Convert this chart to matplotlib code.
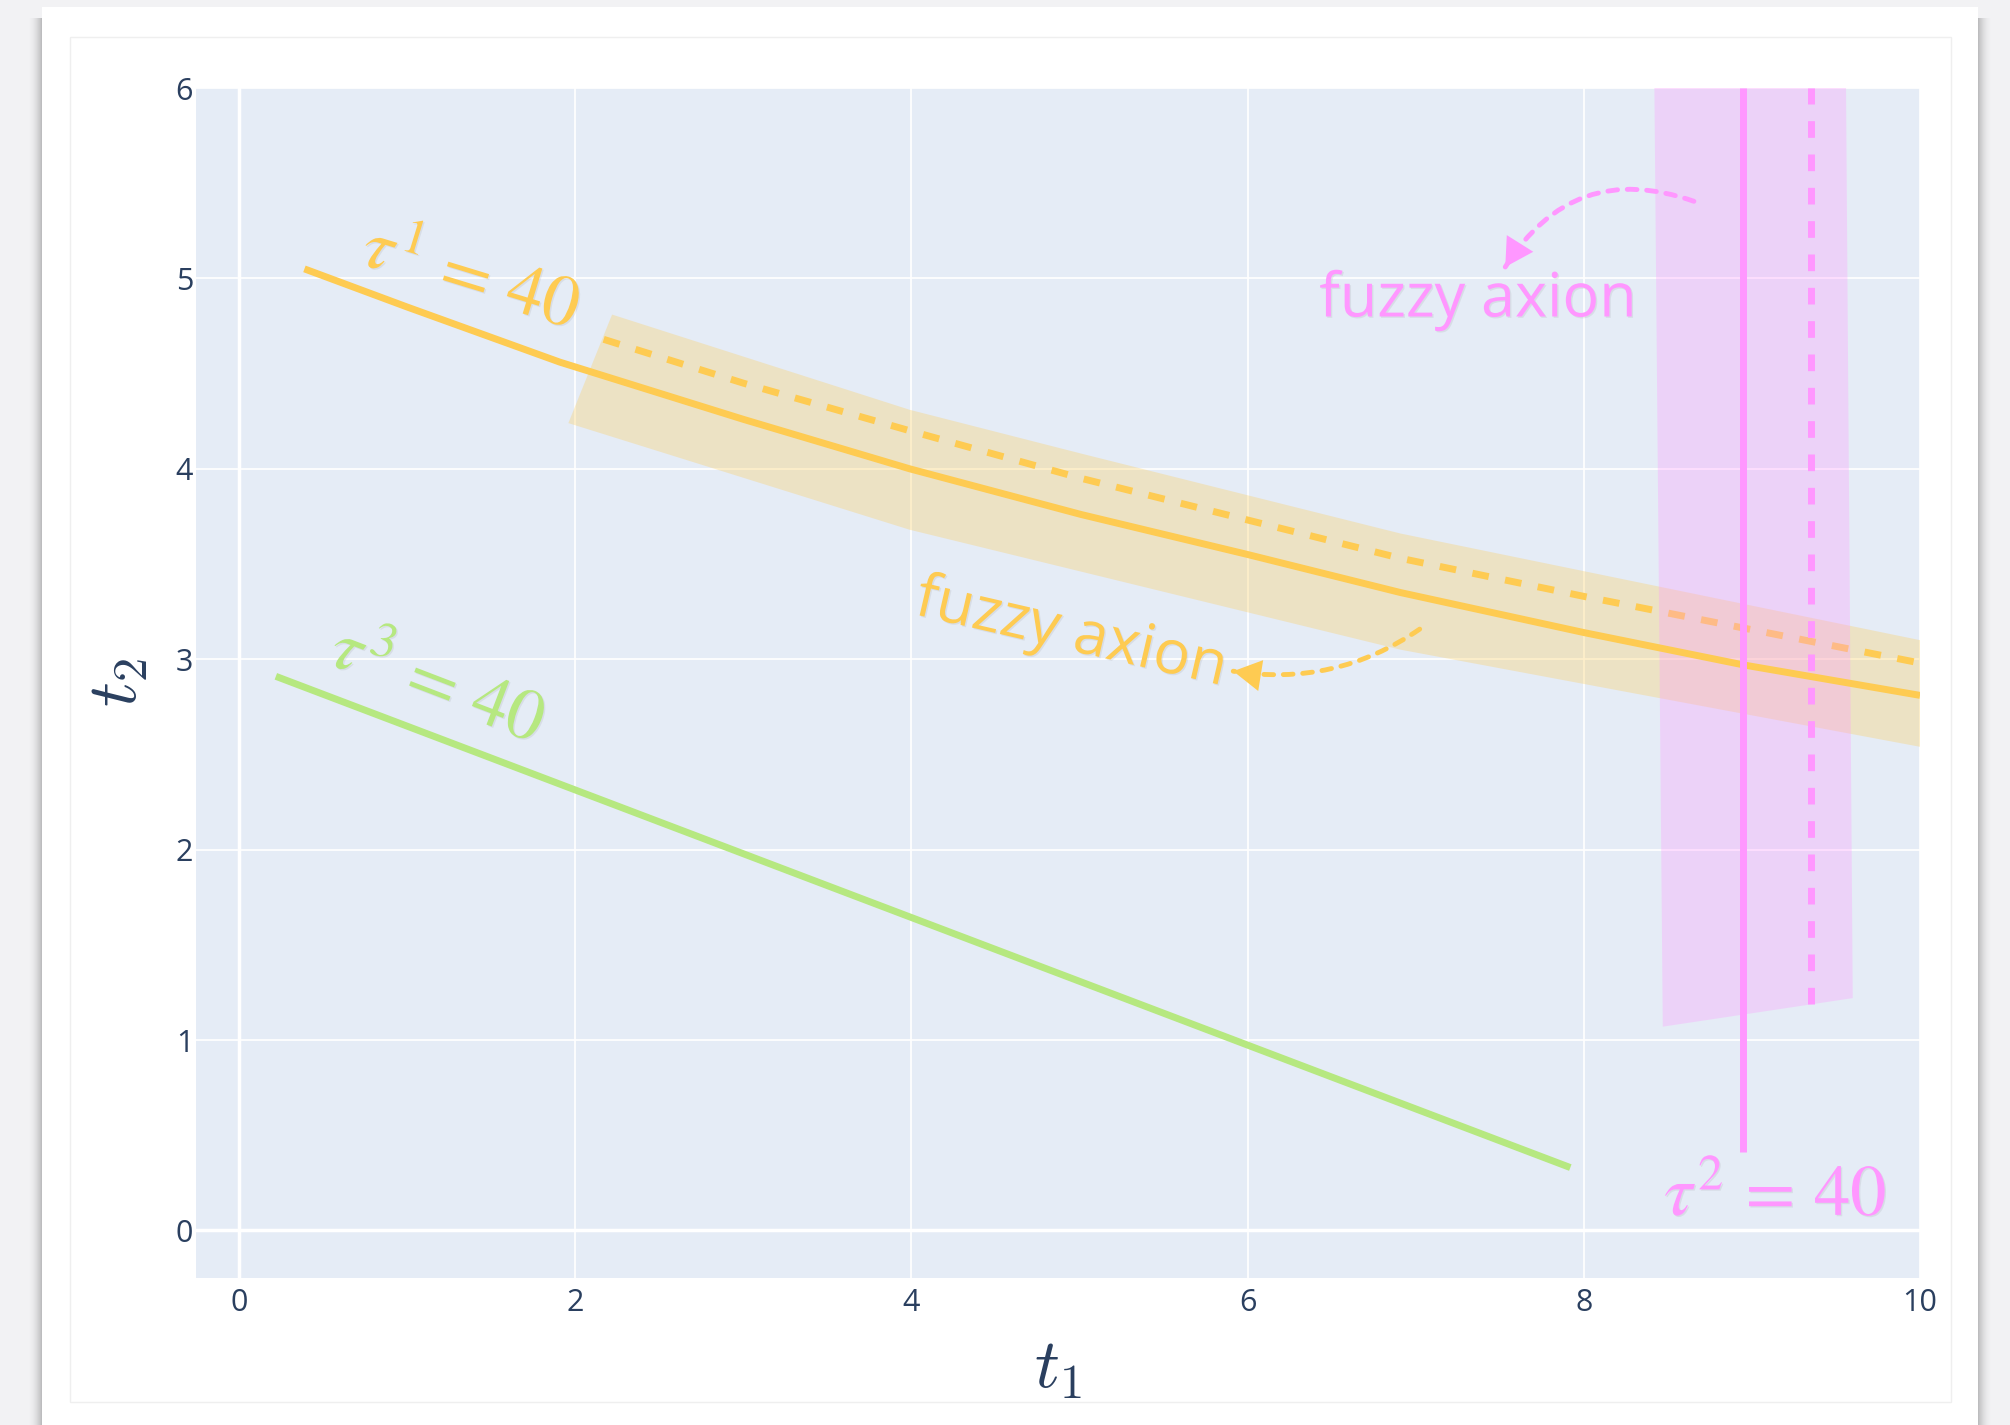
import matplotlib
matplotlib.use("Agg")
import matplotlib.pyplot as plt
import matplotlib.patheffects as pe
from matplotlib.patches import Rectangle, Polygon, FancyArrowPatch

# tau^1 = 40 : crisp curve, fuzzy (dashed) curve and fuzzy band
tau1_x = [0.39, 1.0, 1.91, 3.0, 3.99, 5.01, 6.0, 6.91, 8.0, 8.95, 10.0]
tau1_y = [5.05, 4.85, 4.56, 4.26, 4.00, 3.76, 3.55, 3.35, 3.14, 2.97, 2.81]
fuzzy1_x = [2.17, 3.0, 3.99, 5.01, 6.91, 8.0, 10.0]
fuzzy1_y = [4.68, 4.45, 4.20, 3.95, 3.53, 3.33, 2.98]
band1_top_x = [2.22, 3.99, 5.01, 6.91, 10.0]
band1_top_y = [4.81, 4.31, 4.08, 3.66, 3.10]
band1_bot_x = [1.96, 3.99, 5.01, 6.91, 10.0]
band1_bot_y = [4.24, 3.68, 3.46, 3.05, 2.54]

# tau^2 = 40 : vertical
tau2_x = [8.95, 8.95]
tau2_y = [0.41, 6.0]
fuzzy2_x = [9.35, 9.35]
fuzzy2_y = [1.19, 6.0]
band2_x = [8.42, 8.47, 9.60, 9.56]
band2_y = [6.0, 1.07, 1.22, 6.0]

# tau^3 = 40
tau3_x = [0.22, 7.92]
tau3_y = [2.91, 0.33]

xticks = [0, 2, 4, 6, 8, 10]
yticks = [0, 1, 2, 3, 4, 5, 6]

ORANGE = '#FECB52'
PINK = '#FF97FF'
GREEN = '#B6E880'
FONTCOL = '#2a3f5f'

plt.rcParams['font.family'] = ['Open Sans', 'DejaVu Sans']

W, H = 2010, 1425
fig = plt.figure(figsize=(W / 100, H / 100), dpi=100)
fig.patch.set_facecolor('#f2f2f4')


def px_rect(x, y, w, h, **kw):
    # rectangle given in picture pixels (y from top), kept behind the axes
    r = Rectangle((x / W, 1 - (y + h) / H), w / W, h / H,
                  transform=fig.transFigure, zorder=-10, **kw)
    fig.add_artist(r)
    return r


# card with soft shadow on the sides
for i in range(14):
    a = 0.22 * (1 - i / 14) ** 2
    px_rect(42 - i - 1, 18, 1, H, facecolor='black', alpha=a, lw=0)
    px_rect(1978 + i, 18, 1, H, facecolor='black', alpha=a, lw=0)
px_rect(42, 7, 1936, H, facecolor='white', lw=0)
px_rect(70, 37, 1881, 1365, facecolor='none', edgecolor='#efefef', lw=1)

ax = fig.add_axes([196 / W, 1 - 1278 / H, (1920 - 196) / W, (1278 - 88) / H])
ax.set_facecolor('#E5ECF6')
for s in ax.spines.values():
    s.set_visible(False)
ax.set_xlim(-0.255, 10)
ax.set_ylim(-0.25, 6)
ax.set_xticks(xticks)
ax.set_yticks(yticks)
ax.grid(color='white', lw=1.25)
ax.set_axisbelow(True)
ax.axhline(0, color='white', lw=2.5, zorder=0.8)
ax.axvline(0, color='white', lw=2.5, zorder=0.8)
ax.tick_params(length=0, labelsize=22, labelcolor=FONTCOL)
ax.tick_params(axis='y', pad=2)
ax.tick_params(axis='x', pad=7)

ax.set_xlabel(r'$t_1$', fontsize=50, color=FONTCOL, math_fontfamily='cm')
ax.set_ylabel(r'$t_2$', fontsize=50, color=FONTCOL, math_fontfamily='cm')
ax.xaxis.set_label_coords(0.5, -0.047)
ax.yaxis.set_label_coords(-0.025, 0.5)

# fuzzy bands
ax.add_patch(Polygon(list(zip(band1_top_x + band1_bot_x[::-1],
                              band1_top_y + band1_bot_y[::-1])),
                     closed=True, facecolor=ORANGE, alpha=0.3, lw=0, zorder=1))
ax.plot(fuzzy1_x, fuzzy1_y, color=ORANGE, lw=5, ls=(0, (2.4, 2.4)), zorder=2)
ax.add_patch(Polygon(list(zip(band2_x, band2_y)), closed=True,
                     facecolor=PINK, alpha=0.3, lw=0, zorder=3))

ax.plot(tau1_x, tau1_y, color=ORANGE, lw=5, zorder=4, solid_capstyle='butt')
ax.plot(tau3_x, tau3_y, color=GREEN, lw=5, zorder=4, solid_capstyle='butt')
ax.plot(tau2_x, tau2_y, color=PINK, lw=5, zorder=5, solid_capstyle='butt')
ax.plot(fuzzy2_x, fuzzy2_y, color=PINK, lw=5, ls=(0, (2.4, 2.4)), zorder=5)

shadow = [pe.withSimplePatchShadow(offset=(1, -1), shadow_rgbFace='#777777', alpha=0.12)]
tau_kw = dict(fontsize=52, math_fontfamily='stix', path_effects=shadow, zorder=6)

ax.text(1.38, 5.0, r'$\tau^{1} \,=\, 40$', color=ORANGE, rotation=-17,
        rotation_mode='anchor', ha='center', va='center', **tau_kw)
ax.text(1.18, 2.86, r'$\tau^{3} \,=\, 40$', color=GREEN, rotation=-21,
        rotation_mode='anchor', ha='center', va='center', **tau_kw)
ax.text(9.14, 0.08, r'$\tau^{2} \,=\, 40$', color=PINK,
        ha='center', va='baseline', **tau_kw)

fz_kw = dict(fontsize=44, path_effects=shadow, zorder=6)
ax.text(4.93, 3.05, 'fuzzy axion', color=ORANGE, rotation=-13,
        rotation_mode='anchor', ha='center', va='baseline', **fz_kw)
ax.text(7.37, 4.80, 'fuzzy axion', color=PINK, ha='center', va='baseline', **fz_kw)


def curved_arrow(start, tip, rad, color):
    cs = 'arc3,rad=%s' % rad
    ax.add_patch(FancyArrowPatch(start, tip, connectionstyle=cs, arrowstyle='-',
                                 color=color, lw=3.5, linestyle=(0, (2, 2)),
                                 shrinkA=0, shrinkB=0, zorder=6))
    ax.add_patch(FancyArrowPatch(start, tip, connectionstyle=cs,
                                 arrowstyle='-|>,head_length=0.8,head_width=0.45',
                                 mutation_scale=25, color=color, lw=0,
                                 shrinkA=0, shrinkB=0, zorder=6))


curved_arrow((8.655, 5.405), (7.533, 5.06), 0.4, PINK)
curved_arrow((7.024, 3.158), (5.915, 2.937), -0.2, ORANGE)

fig.savefig('out.png', dpi=100)
